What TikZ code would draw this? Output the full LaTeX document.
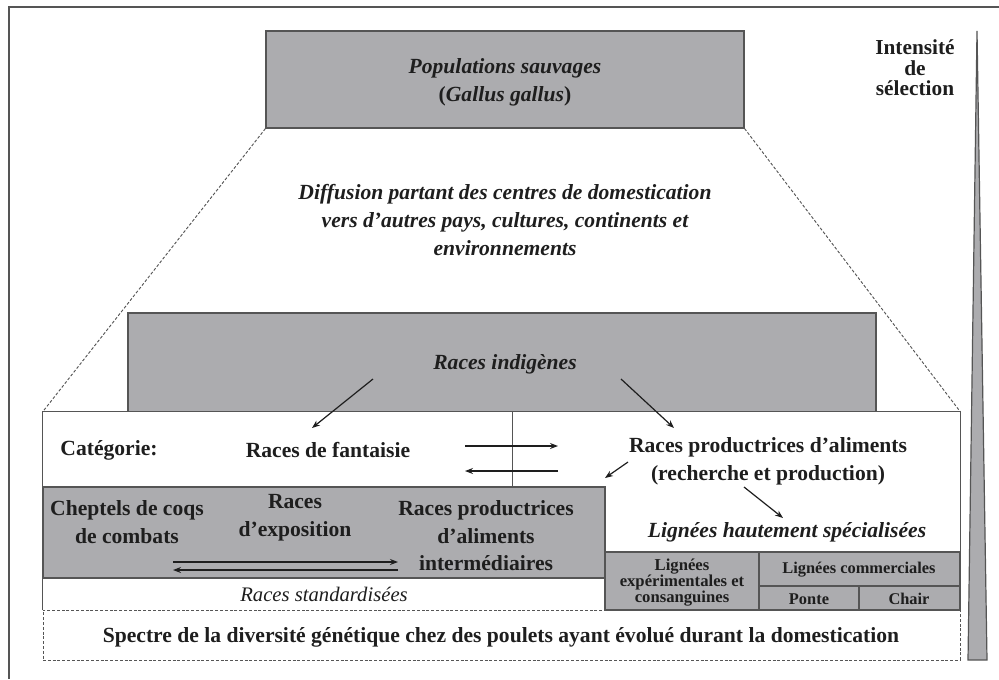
\documentclass[tikz,border=0pt]{standalone}
\usepackage{fontspec}
\setmainfont{Liberation Serif}
\usetikzlibrary{arrows.meta,fit}
\definecolor{boxgray}{RGB}{172,172,175}
\definecolor{linegray}{RGB}{85,85,85}
\definecolor{txt}{RGB}{30,30,30}
\tikzset{
  graybox/.style={inner sep=0pt, fill=boxgray, draw=linegray, line width=0.9pt},
  whitebox/.style={inner sep=0pt, fill=white},
  lbl/.style={text=txt, align=center, font=\fontsize{16.2}{18}\selectfont\bfseries, inner sep=0pt},
  ilbl/.style={text=txt, align=center, font=\fontsize{16.2}{21}\selectfont\bfseries\itshape, inner sep=0pt},
  smlbl/.style={text=txt, align=center, font=\fontsize{12.3}{12}\selectfont\bfseries, inner sep=0pt},
  arr/.style={-{Stealth[length=6pt,width=4.5pt]}, line width=0.9pt, draw=txt},
  dashline/.style={dash pattern=on 2.2pt off 1.4pt, line width=0.7pt, draw=linegray}
}
\begin{document}
\begin{tikzpicture}[x=0.75pt,y=-0.75pt]
\useasboundingbox (0,0) rectangle (999,679);
% frame
\draw[linegray, line width=1.2pt] (999,7) -- (9,7) -- (9,679);

% top box
\node[graybox, fit={(266,31) (744,128)}] (wild) {};
\node[ilbl] (wildt) at (505,82) {Populations sauvages\\\upshape(\itshape Gallus gallus\upshape)};

% diffusion text
\node[ilbl] (diff) at (505,220) {Diffusion partant des centres de domestication\\vers d’autres pays, cultures, continents et\\environnements};

% indigenous box
\node[graybox, fit={(128,313) (876,412)}] (indig) {};
\node[ilbl] (indigt) at (505,364) {Races indigènes};

% main white area
\node[whitebox, fit={(43,412) (960,610)}] (main) {};
\draw[linegray, line width=0.9pt] (main.south west) -- (main.north west) -- (main.north east) -- (main.south east);
\draw[dashline] (wild.south west) -- (main.north west);
\draw[dashline] (wild.south east) -- (main.north east);

% vertical separator
\coordinate (sepT) at (512,412);
\coordinate (sepB) at (512,487);
\draw[linegray, line width=0.7pt] (sepT) -- (sepB);

% grey band
\node[graybox, fit={(43,487) (605,578)}] (band) {};
% lignees boxes
\node[graybox, fit={(605,552) (759,610)}] (exp) {};
\node[graybox, fit={(759,552) (960,586)}] (comm) {};
\node[graybox, fit={(759,586) (859,610)}] (ponte) {};
\node[graybox, fit={(859,586) (960,610)}] (chair) {};

% bottom dashed box
\node[fit={(43,610) (960,660)}, inner sep=0pt, dashline, draw] (spec) {};

% triangle
\coordinate (triA) at (977,31);
\coordinate (triB) at (987,660);
\coordinate (triC) at (968,660);
\draw[fill=boxgray, draw=linegray, line width=0.9pt] (triA) -- (triB) -- (triC) -- cycle;
\node[lbl, font=\fontsize{16}{15.4}\selectfont\bfseries] (intens) at (915,68) {Intensité\\de\\sélection};

% texts in white area
\node[lbl] (cat) at (109,450) {Catégorie:};
\node[lbl] (fant) at (328,450) {Races de fantaisie};
\node[lbl, font=\fontsize{16.2}{21}\selectfont\bfseries] (prod) at (768,461) {Races productrices d’aliments\\(recherche et production)};
\node[ilbl] (lhs) at (787,532) {Lignées hautement spécialisées};

% band texts
\node[lbl, font=\fontsize{16.2}{21}\selectfont\bfseries] (coqs) at (127,522) {Cheptels de coqs\\de combats};
\node[lbl, font=\fontsize{16.2}{21}\selectfont\bfseries] (expo) at (295,518) {Races\\d’exposition};
\node[lbl, font=\fontsize{16.2}{20.6}\selectfont\bfseries] (inter) at (486,536) {Races productrices\\d'aliments\\intermédiaires};
\node[text=txt, align=center, font=\fontsize{15.5}{17}\selectfont\itshape, inner sep=0pt] (std) at (324,594) {Races standardisées};

% lignees texts
\node[smlbl, font=\fontsize{12.5}{12}\selectfont\bfseries] (expt) at (682,583) {Lignées\\expérimentales et\\consanguines};
\node[smlbl] (commt) at (859,570) {Lignées commerciales};
\node[smlbl] (pontet) at (809,599) {Ponte};
\node[smlbl] (chairt) at (909,599) {Chair};

\node[lbl] (spect) at (501,637) {Spectre de la diversité génétique chez des poulets ayant évolué durant la domestication};

% arrows
\coordinate (a1s) at (373,379); \coordinate (a1e) at (312,428);
\coordinate (a2s) at (621,379); \coordinate (a2e) at (674,428);
\coordinate (a3s) at (628,462); \coordinate (a3e) at (605,478);
\coordinate (a4s) at (744,487); \coordinate (a4e) at (783,518);
\coordinate (r1s) at (465,446); \coordinate (r1e) at (558,446);
\coordinate (r2s) at (558,471); \coordinate (r2e) at (465,471);
\coordinate (b1s) at (173,562); \coordinate (b1e) at (398,562);
\coordinate (b2s) at (398,570); \coordinate (b2e) at (173,570);
\draw[arr] (a1s) -- (a1e);
\draw[arr] (a2s) -- (a2e);
\draw[arr] (a3s) -- (a3e);
\draw[arr] (a4s) -- (a4e);
\draw[arr] (r1s) -- (r1e);
\draw[arr] (r2s) -- (r2e);
\draw[arr] (b1s) -- (b1e);
\draw[arr] (b2s) -- (b2e);
\end{tikzpicture}
\end{document}
